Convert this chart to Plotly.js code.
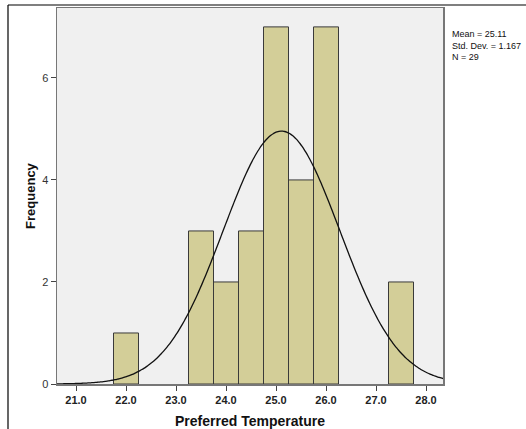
<!DOCTYPE html>
<html><head><meta charset="utf-8">
<script src="https://cdn.plot.ly/plotly-3.0.1.min.js"></script>
<style>body{margin:0;background:#fff}#c{width:526px;height:429px}</style>
</head><body><div id="c"></div>
<script>
// Histogram bins (centers) and counts
const binCenters = [22.0, 23.5, 24.0, 24.5, 25.0, 25.5, 26.0, 27.5];
const counts = [1, 3, 2, 3, 7, 4, 7, 2];
const binWidth = 0.5;
const MEAN = 25.11, SD = 1.167, N = 29;
const xTicks = [21, 22, 23, 24, 25, 26, 27, 28];
const yTicks = [0, 2, 4, 6];

// Normal curve defined by the stated mean / SD, scaled to counts
const curveX = [], curveY = [];
for (let i = 0; i <= 200; i++) {
  const x = 20.62 + (28.34 - 20.62) * i / 200;
  curveX.push(x);
  curveY.push(N * binWidth / (SD * Math.sqrt(2 * Math.PI)) * Math.exp(-0.5 * ((x - MEAN) / SD) ** 2));
}

const L = 57, R = 443, T = 8, B = 384, W = 526, H = 429;
const px = v => (v - L) / (R - L);
const py = v => (B - v) / (B - T);

const data = [
  {type: 'bar', x: binCenters, y: counts, width: binWidth,
   marker: {color: 'rgb(211,206,152)', line: {color: '#3a3a3a', width: 1}},
   hoverinfo: 'skip'},
  {type: 'scatter', mode: 'lines', x: curveX, y: curveY,
   line: {color: '#111', width: 1.3, shape: 'spline'}, hoverinfo: 'skip'}
];

const layout = {
  width: W, height: H,
  margin: {l: L, r: W - R, t: T, b: H - B},
  paper_bgcolor: '#fff', plot_bgcolor: '#f0f0f0',
  showlegend: false, bargap: 0,
  font: {family: 'Liberation Sans, Arial, sans-serif', color: '#222'},
  xaxis: {range: [20.62, 28.34], tickvals: xTicks, ticktext: xTicks.map(v => '<b>' + v.toFixed(1) + '</b>'),
          ticks: 'outside', ticklen: 5, tickcolor: '#444', showgrid: false, zeroline: false,
          showline: true, linecolor: '#777', linewidth: 1.5, mirror: true,
          tickfont: {size: 11, color: '#222'},
          title: {text: '<b>Preferred Temperature</b>', font: {size: 14, color: '#111'}, standoff: 11}},
  yaxis: {range: [0, 7.37], tickvals: yTicks, ticks: 'outside', ticklen: 5, tickcolor: '#444',
          showgrid: false, zeroline: false, showline: true, linecolor: '#777', linewidth: 1.5, mirror: true,
          tickfont: {size: 11, color: '#333'},
          title: {text: '<b>Frequency</b>', font: {size: 13, color: '#111'}, standoff: 3}},
  annotations: [{xref: 'paper', yref: 'paper', x: px(450), y: py(27), xanchor: 'left', yanchor: 'top',
                 align: 'left', showarrow: false,
                 text: 'Mean = ' + MEAN + '<br>Std. Dev. = ' + SD + '<br>N = ' + N,
                 font: {size: 9, color: '#111'}}],
  shapes: [
    {type: 'line', xref: 'paper', yref: 'paper', x0: px(8), x1: px(530), y0: py(5), y1: py(5), line: {color: '#000', width: 1.2}},
    {type: 'line', xref: 'paper', yref: 'paper', x0: px(8), x1: px(8), y0: py(5), y1: py(432), line: {color: '#000', width: 1.2}}
  ]
};
Plotly.newPlot('c', data, layout, {displayModeBar: false, staticPlot: true});
</script></body></html>
